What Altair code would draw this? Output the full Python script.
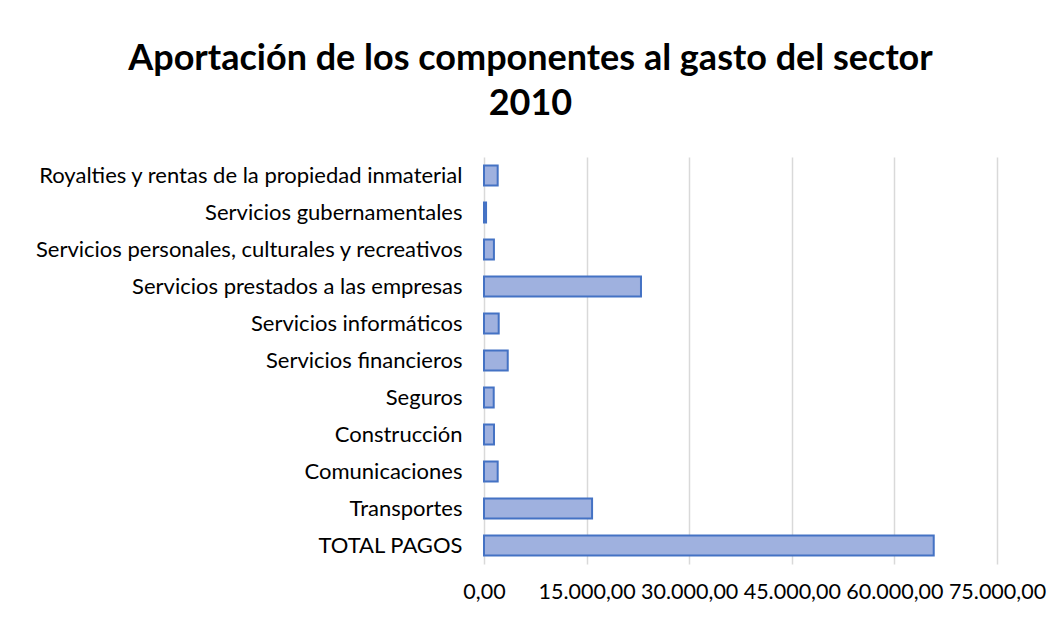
import altair as alt
import pandas as pd

categories = [
    "Royalties y rentas de la propiedad inmaterial",
    "Servicios gubernamentales",
    "Servicios personales, culturales y recreativos",
    "Servicios prestados a las empresas",
    "Servicios informáticos",
    "Servicios financieros",
    "Seguros",
    "Construcción",
    "Comunicaciones",
    "Transportes",
    "TOTAL PAGOS",
]
values = [2000, 300, 1450, 22950, 2150, 3470, 1420, 1460, 2000, 15800, 65750]
x_ticks = [0, 15000, 30000, 45000, 60000, 75000]

df = pd.DataFrame({"componente": categories, "valor": values})

FONT = "Lato"

label_expr = (
    "replace(replace(replace(format(datum.value, ',.2f'), ',', '_'), '.', ','), '_', '.')"
)

chart = (
    alt.Chart(df)
    .mark_bar(fill="#9fb1df", stroke="#4472C4", strokeWidth=2)
    .encode(
        x=alt.X(
            "valor:Q",
            scale=alt.Scale(domain=[0, 75000], nice=False),
            axis=alt.Axis(
                values=x_ticks,
                labelExpr=label_expr,
                title=None,
                domain=False,
                ticks=False,
                grid=True,
                gridColor="#d9d9d9",
                gridWidth=1.5,
                labelFontSize=21.5,
                labelFont=FONT,
                labelColor="#000000",
                labelPadding=17,
                labelFlush=False,
            ),
        ),
        y=alt.Y(
            "componente:N",
            sort=categories,
            scale=alt.Scale(paddingInner=0.46, paddingOuter=0.23),
            axis=alt.Axis(
                title=None,
                domain=False,
                ticks=False,
                labelFontSize=22,
                labelFont=FONT,
                labelColor="#000000",
                labelPadding=22,
                labelLimit=500,
            ),
        ),
    )
    .properties(
        width=513,
        height=407,
        autosize=alt.AutoSizeParams(type="none"),
        padding={"left": 476, "top": 149, "right": 50, "bottom": 45},
        title=alt.TitleParams(
            text=["Aportación de los componentes al gasto del sector", "2010"],
            anchor="middle",
            dx=-210,
            offset=34,
            fontSize=36,
            font=FONT,
            fontWeight="bold",
            color="#000000",
            lineHeight=45,
        ),
    )
    .configure_view(stroke=None)
)

chart.save("out.html", embed_options={"renderer": "svg", "actions": False})
